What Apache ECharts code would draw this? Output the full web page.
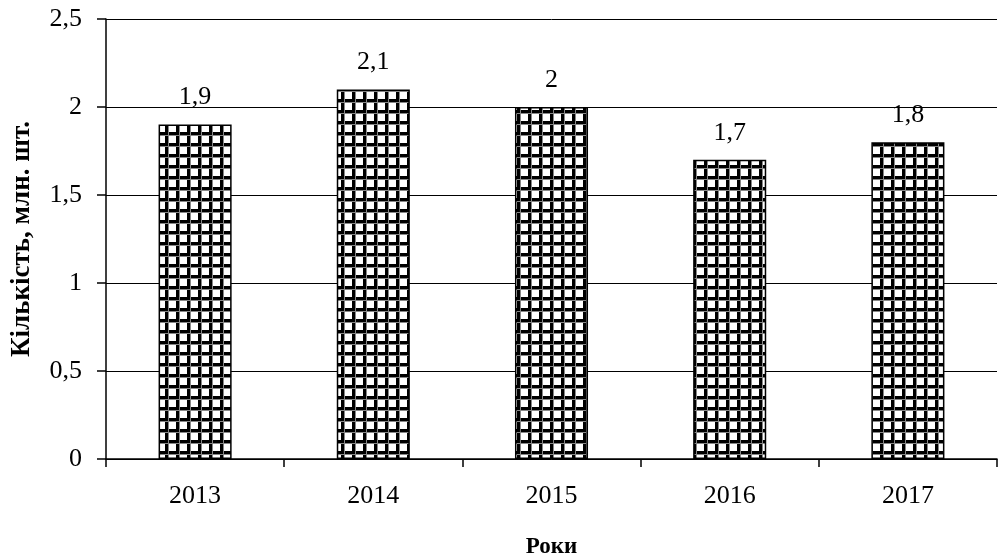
<!DOCTYPE html>
<html>
<head>
<meta charset="utf-8">
<script src="https://cdn.jsdelivr.net/npm/echarts@6/dist/echarts.min.js"></script>
<style>
html,body{margin:0;padding:0;background:#fff;}
#chart{width:998px;height:559px;}
</style>
</head>
<body>
<div id="chart"></div>
<script>
const categories = ['2013', '2014', '2015', '2016', '2017'];
const values = [1.9, 2.1, 2.0, 1.7, 1.8];
const yTicks = [0, 0.5, 1, 1.5, 2, 2.5];
const xAxisName = 'Роки';
const yAxisName = 'Кількість, млн. шт.';

function fmt(v) { return String(v).replace('.', ','); }

// checkered pattern
const pc = document.createElement('canvas');
pc.width = 11; pc.height = 11;
const ctx = pc.getContext('2d');
ctx.fillStyle = '#fff';
ctx.fillRect(0, 0, 11, 11);
ctx.fillStyle = '#000';
ctx.fillRect(0, 0, 3, 11);
ctx.fillRect(0, 0, 11, 3);
ctx.fillStyle = '#888';
ctx.fillRect(3, 0, 1, 11);
ctx.fillRect(0, 3, 11, 1);

const chart = echarts.init(document.getElementById('chart'));
const font = '"Liberation Serif", "Times New Roman", serif';
chart.setOption({
  animation: false,
  backgroundColor: '#fff',
  grid: { left: 106, right: 1, top: 19, bottom: 100, containLabel: false, outerBoundsMode: 'none' },
  xAxis: {
    type: 'category',
    data: categories,
    boundaryGap: true,
    name: xAxisName,
    nameLocation: 'middle',
    nameGap: 77,
    nameTextStyle: { fontFamily: font, fontSize: 23, fontWeight: 'bold', color: '#000' },
    axisLine: { lineStyle: { color: '#000', width: 1.5 } },
    axisTick: { show: true, alignWithLabel: false, length: 8, lineStyle: { color: '#000', width: 1.5 } },
    axisLabel: { fontFamily: font, fontSize: 26, color: '#000', margin: 24 }
  },
  yAxis: {
    type: 'value',
    min: yTicks[0],
    max: yTicks[yTicks.length - 1],
    interval: 0.5,
    name: yAxisName,
    nameLocation: 'middle',
    nameGap: 70,
    nameRotate: 90,
    nameTextStyle: { fontFamily: font, fontSize: 27, fontWeight: 'bold', color: '#000' },
    axisLine: { show: true, lineStyle: { color: '#000', width: 1.5 } },
    axisTick: { show: true, inside: false, length: 9, lineStyle: { color: '#000', width: 1.5 } },
    axisLabel: { fontFamily: font, fontSize: 26, color: '#000', margin: 24, formatter: v => fmt(v) },
    splitLine: { show: true, lineStyle: { color: '#000', width: 1 } }
  },
  series: [{
    type: 'bar',
    data: values,
    barWidth: '41%',
    itemStyle: {
      color: { image: pc, repeat: 'repeat' },
      borderColor: '#000',
      borderWidth: 1.5
    },
    label: {
      show: true,
      position: 'top',
      distance: 14,
      fontFamily: font,
      fontSize: 26,
      color: '#000',
      formatter: p => fmt(p.value)
    }
  }]
});
</script>
</body>
</html>
